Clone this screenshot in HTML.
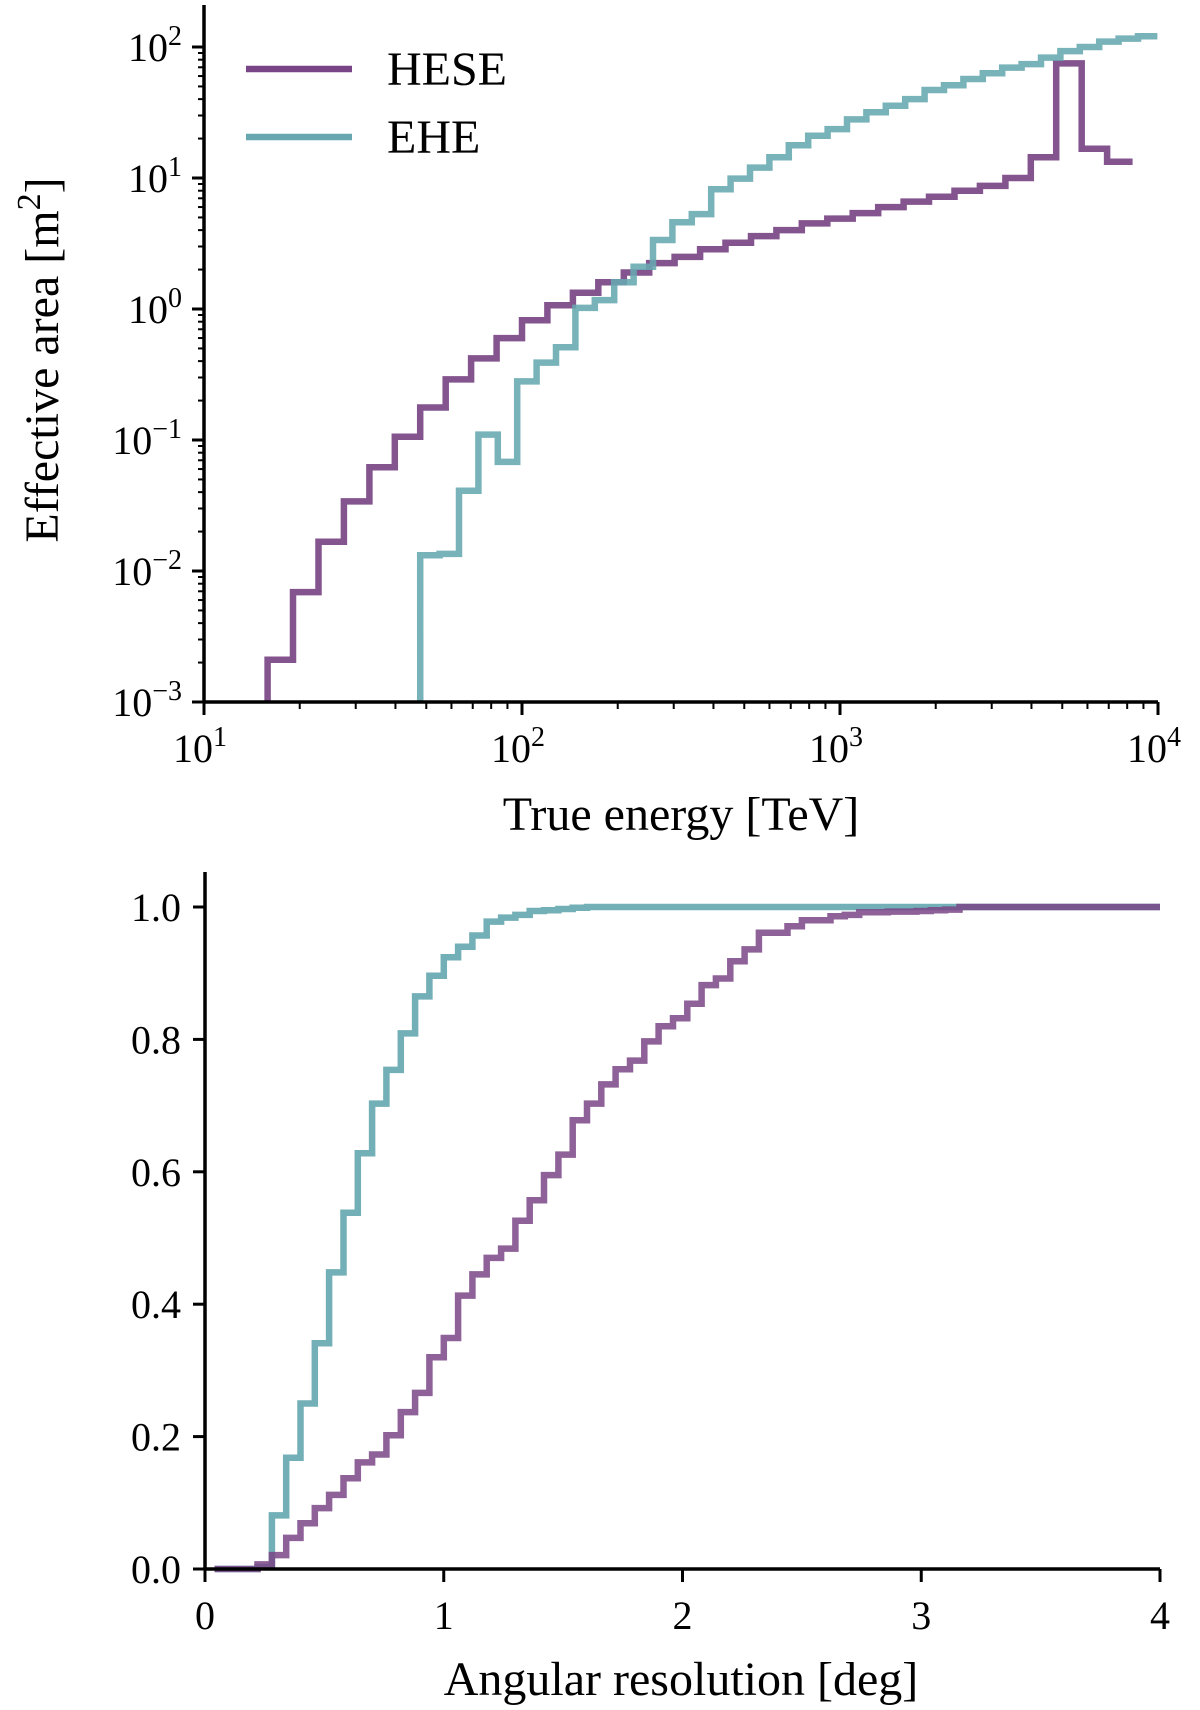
<!DOCTYPE html>
<html><head><meta charset="utf-8"><style>
body{margin:0;background:#fff}
svg{display:block;font-family:"Liberation Serif",serif}
</style></head><body>
<svg id="c" width="1200" height="1710"></svg>
<script>
// ---- Top chart data (log10 energy bin edges & effective area m^2)
const heseStartLog = 1.2, heseBinW = 0.08;
const heseArea = [0.0021,0.0069,0.0167,0.034,0.062,0.106,0.177,0.29,0.42,0.60,0.82,1.07,1.33,1.6,1.9,2.24,2.5,2.86,3.2,3.6,4.0,4.5,4.9,5.4,6.0,6.6,7.2,8.0,8.7,10,14.4,75,16.7,13.3];
const eheStartLog = 1.68, eheBinW = 0.061;
const eheArea = [0.0132,0.0135,0.041,0.11,0.068,0.28,0.39,0.51,1.02,1.17,1.6,2.1,3.36,4.6,5.3,8.2,9.9,12,14.4,17.8,21,23.6,28,31.8,35.6,40,47,51,57,63,69.6,74,83,93,100,110,116,121];
const topXTicks = [1,2,3,4];
const topYTicks = [-3,-2,-1,0,1,2];
// ---- Bottom chart data (angular resolution CDF)
const angStart = 0.04, angBinW = 0.06;
const heseCdf = [0,0,0,0.007,0.021,0.047,0.069,0.092,0.112,0.137,0.161,0.173,0.202,0.237,0.266,0.32,0.349,0.413,0.445,0.47,0.484,0.526,0.557,0.595,0.626,0.678,0.703,0.732,0.755,0.768,0.797,0.82,0.832,0.854,0.882,0.892,0.918,0.936,0.961,0.961,0.971,0.98,0.98,0.986,0.988,0.992,0.992,0.993,0.993,0.994,0.995,0.996,1,1,1,1,1,1,1,1,1,1,1,1,1,1];
const eheCdf = [0,0,0,0.003,0.081,0.168,0.25,0.341,0.448,0.538,0.628,0.703,0.754,0.809,0.865,0.896,0.924,0.94,0.957,0.978,0.984,0.988,0.994,0.995,0.997,0.999,1,1];
const botXTicks = [0,1,2,3,4];
const botYTicks = [0,0.2,0.4,0.6,0.8,1.0];

const HESE='#7a4586', EHE='#67a8b0';
const svg=document.getElementById('c');
const NS='http://www.w3.org/2000/svg';
function mk(tag,attrs,parent){const e=document.createElementNS(NS,tag);for(const k in attrs)e.setAttribute(k,attrs[k]);(parent||svg).appendChild(e);return e;}

const T={x0:204,x1:1158,y0:702,y1:47};
const tx=l=>T.x0+(l-1)/3*(T.x1-T.x0);
const ty=l=>T.y0-(l+3)/5*(T.y0-T.y1);
const B={x0:205,x1:1160,y0:1569,y1:907};
const bx=v=>B.x0+v/4*(B.x1-B.x0);
const by=v=>B.y0-v*(B.y0-B.y1);

function stepPath(start,w,vals,fx,fy,xmax){
  let d='';let first=true;
  vals.forEach((v,i)=>{let a=start+i*w;if(a>=xmax)return;let b=Math.min(start+(i+1)*w,xmax);
    const X0=fx(a),X1=fx(b),Y=fy(v);
    d+=(first?'M':'L')+X0.toFixed(1)+','+Y.toFixed(1)+'L'+X1.toFixed(1)+','+Y.toFixed(1);first=false;});
  return d;
}
function clipLog(v){return Math.max(-3.2,Math.log10(v));}

let g=mk('g',{});


let cp=mk('clipPath',{id:'cpt'});mk('rect',{x:T.x0,y:0,width:T.x1-T.x0+4,height:T.y0},cp);
let p=mk('path',{d:'M'+tx(heseStartLog)+','+T.y0+'L'+stepPath(heseStartLog,heseBinW,heseArea,tx,v=>ty(clipLog(v)),4).slice(1),fill:'none',stroke:HESE,'stroke-width':6.5,'clip-path':'url(#cpt)',opacity:0.92},g);


p=mk('path',{d:'M'+tx(eheStartLog)+','+T.y0+'L'+stepPath(eheStartLog,eheBinW,eheArea,tx,v=>ty(clipLog(v)),4).slice(1),fill:'none',stroke:EHE,'stroke-width':6.5,'clip-path':'url(#cpt)',opacity:0.88},g);



mk('line',{x1:T.x0,y1:5,x2:T.x0,y2:T.y0+1.5,stroke:'#000','stroke-width':3.5});
mk('line',{x1:T.x0-1.5,y1:T.y0,x2:T.x1,y2:T.y0,stroke:'#000','stroke-width':3.5});
topYTicks.forEach(l=>{
  mk('line',{x1:T.x0-12,x2:T.x0,y1:ty(l),y2:ty(l),stroke:'#000','stroke-width':3});
  let t=mk('text',{x:T.x0-22,y:ty(l)+14,'font-size':40,'text-anchor':'end'});
  
  
  t.innerHTML='10<tspan dy="-16" font-size="28">'+(l<0?'\u2212'+(-l):l)+'</tspan>';
  if(l<2)for(let m=2;m<10;m++){const yy=ty(l+Math.log10(m));mk('line',{x1:T.x0-6,x2:T.x0,y1:yy,y2:yy,stroke:'#000','stroke-width':2});}
});
[1,2,3].forEach(l=>{for(let m=2;m<10;m++){const xx=tx(l+Math.log10(m));mk('line',{x1:xx,x2:xx,y1:T.y0,y2:T.y0+7,stroke:'#000','stroke-width':2});}});
topXTicks.forEach(l=>{
  mk('line',{x1:tx(l),x2:tx(l),y1:T.y0,y2:T.y0+13,stroke:'#000','stroke-width':3});
  let t=mk('text',{x:tx(l)-4,y:T.y0+60,'font-size':40,'text-anchor':'middle'});
  
  
  t.innerHTML='10<tspan dy="-16" font-size="28">'+l+'</tspan>';
});
let t=mk('text',{x:681,y:830,'font-size':48,'text-anchor':'middle'});t.textContent='True energy [TeV]';


t=mk('text',{x:0,y:0,'font-size':48,'text-anchor':'middle',transform:'translate(58,360) rotate(-90)'});
t.innerHTML='Effective area [m<tspan dy="-18" font-size="34">2</tspan><tspan dy="18">]</tspan>';


[['HESE',HESE,69],['EHE',EHE,137]].forEach(([n,c,y])=>{
  let l=mk('line',{x1:246,x2:352,y1:y,y2:y,stroke:c,'stroke-width':6.5});
  
  
  let tt=mk('text',{x:387,y:y+16,'font-size':48});tt.textContent=n;
  
  
});

p=mk('path',{d:stepPath(angStart,angBinW,eheCdf,bx,by,4)+'L'+bx(4)+','+by(1),fill:'none',stroke:EHE,'stroke-width':6.5,opacity:0.92});


p=mk('path',{d:stepPath(angStart,angBinW,heseCdf,bx,by,4)+'L'+bx(4)+','+by(1),fill:'none',stroke:HESE,'stroke-width':6.5,opacity:0.85});


mk('line',{x1:B.x0,y1:872,x2:B.x0,y2:B.y0+1.5,stroke:'#000','stroke-width':3.5});
mk('line',{x1:B.x0-1.5,y1:B.y0,x2:B.x1,y2:B.y0,stroke:'#000','stroke-width':3.5});
botYTicks.forEach(v=>{
  mk('line',{x1:B.x0-12,x2:B.x0,y1:by(v),y2:by(v),stroke:'#000','stroke-width':3});
  let tt=mk('text',{x:B.x0-24,y:by(v)+14,'font-size':40,'text-anchor':'end'});tt.textContent=v.toFixed(1);
  
  
});
botXTicks.forEach(v=>{
  mk('line',{x1:bx(v),x2:bx(v),y1:B.y0,y2:B.y0+13,stroke:'#000','stroke-width':3});
  let tt=mk('text',{x:bx(v),y:B.y0+60,'font-size':40,'text-anchor':'middle'});tt.textContent=v;
  
  
});
t=mk('text',{x:681,y:1695,'font-size':48,'text-anchor':'middle'});t.textContent='Angular resolution [deg]';


</script>
</body></html>
